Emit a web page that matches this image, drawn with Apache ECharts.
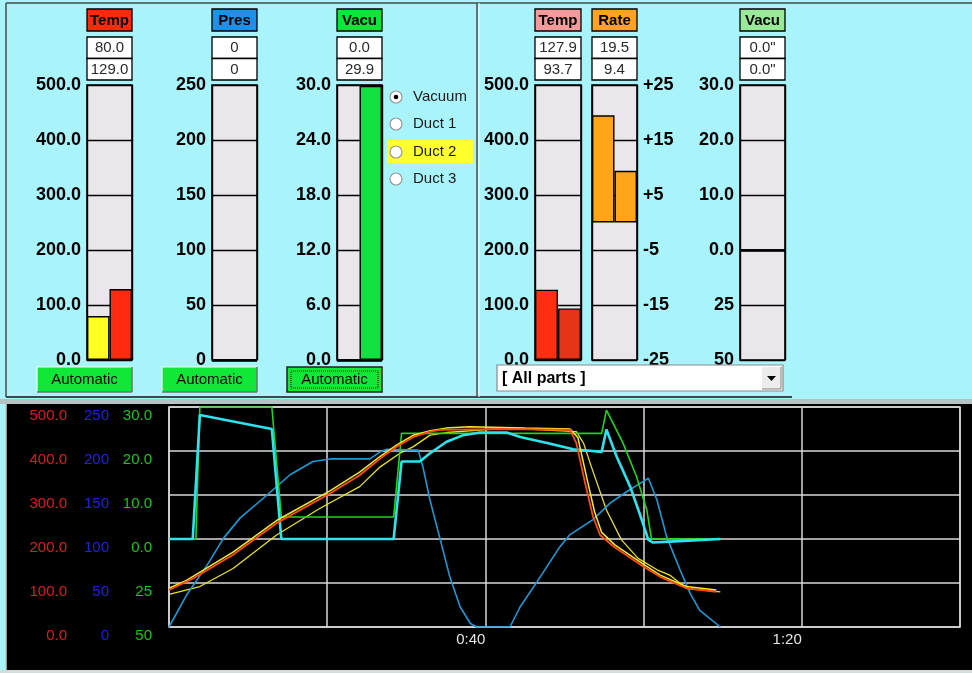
<!DOCTYPE html>
<html><head><meta charset="utf-8">
<script src="https://cdn.jsdelivr.net/npm/echarts@6/dist/echarts.min.js"></script>
<style>html,body{margin:0;padding:0;background:#a8f4fa}#c{width:972px;height:673px}</style>
</head><body><div id="c"></div>
<script>
// ---------- data ----------
const gaugeNames = ['Temp', 'Pres', 'Vacu', 'Temp', 'Rate', 'Vacu'];
const gaugeColumns = ['Setpoint', 'Actual'];
const tempValues = [80.0, 129.0];
const presValues = [0, 0];
const vacuValues = [0.0, 29.9];
const partTempValues = [127.9, 93.7];
const rateValues = [19.5, 9.4];
const partVacuValues = [0.0, 0.0];

const tempTicks = ['0.0', '100.0', '200.0', '300.0', '400.0', '500.0'];
const presTicks = ['0', '50', '100', '150', '200', '250'];
const vacuTicks = ['0.0', '6.0', '12.0', '18.0', '24.0', '30.0'];
const rateTicks = ['-25', '-15', '-5', '+5', '+15', '+25'];
const vacuPresTicks = ['50', '25', '0.0', '10.0', '20.0', '30.0'];
const timeTicks = ['', '', '0:40', '', '1:20', ''];

const radioOptions = ['Vacuum', 'Duct 1', 'Duct 2', 'Duct 3'];
const buttonLabel = 'Automatic';
const partsOption = '[ All parts ]';

// trend series: [time, value]
const orangeTemp = [[0,84],[2.2,103],[3.1,111],[8.1,164],[13.6,236],[20.4,304],[24.1,345],[26.7,383],[28.8,410],[30.9,432],[33.0,444],[34.3,448],[42,450],[50.7,448],[51.5,418],[52.6,327],[53.6,251],[54.5,209],[56.2,183],[60.0,137],[62.1,114],[65.4,88],[69.2,80]];
const yellowTempA = [[0,88],[2.2,106],[8.1,170],[13.6,242],[20.4,310],[24.1,352],[26.7,388],[28.8,414],[30.9,436],[33,446],[35,452],[38,455],[45,452],[50.7,450],[51.7,430],[52.8,340],[53.8,262],[54.7,215],[56.4,186],[60.2,140],[62.1,118],[65.4,92],[69.2,84]];
const yellowTempB = [[0,74],[3.9,92],[8.1,133],[13.6,209],[19.1,270],[24.1,319],[26.7,364],[29.2,395],[30.9,410],[33.0,436],[35.1,442],[42.7,452],[51.5,444],[52.4,418],[53.4,364],[55.3,266],[57.2,198],[59.3,156],[61.7,130],[63.3,118],[65.4,88],[69.7,80]];
const presTrend = [[0,0],[2.2,36],[4.8,70],[6.9,101],[9.0,124],[12.4,150],[15.3,173],[18.2,188],[20.4,191],[25.4,191],[26.7,199],[27.5,202],[31.5,201],[32.1,182],[33.0,144],[34.3,99],[35.5,57],[36.8,23],[38.1,4],[38.9,0],[43.1,0],[44.4,23],[46.5,51],[49.4,91],[50.7,105],[53.6,122],[55.8,141],[57.9,154],[59.5,163],[60.6,169],[61.7,144],[62.9,103],[64.6,65],[65.9,38],[67.1,19],[69.7,0]];
const vacuumTrend = [[0,0],[3.4,0],[3.9,30],[13.0,30],[14.2,5.0],[28.4,5.0],[29.4,24.0],[54.7,24.0],[55.3,29.3],[57.4,21.8],[59.1,14.2],[60.4,6.6],[61.0,0],[69.7,0]];
const ductTrend = [[0,0],[3.0,0],[3.9,28.2],[13.0,25.0],[14.2,0],[28.4,0],[29.4,17.6],[31.7,17.6],[33.0,19.5],[35.1,22.1],[37.2,23.6],[39.3,24.2],[42.7,24.2],[44.4,23.2],[47.8,21.8],[51.1,20.4],[54.7,19.8],[55.3,24.9],[56.6,18.7],[58.3,11.9],[59.5,5.8],[60.6,-0.2],[61.2,-0.8],[63.3,-0.6],[69.7,0]];

// ---------- layout / style ----------
const FF = '"Liberation Sans", Arial, sans-serif';
const gaugeLayout = [{x:87,w:45},{x:212,w:45},{x:337,w:45},{x:535,w:46},{x:592,w:45},{x:740,w:45}];
const headerColors = ['#ff2a0a', '#1e90e8', '#08e838', '#f49a9a', '#ffa21e', '#98ea98'];
const gaugeDefs = [
  {values: tempValues, min: 0, max: 500, interval: 100, ticks: tempTicks, colors: ['#ffff22', '#ff2a10'], fmt: v => v.toFixed(1), side: 'left'},
  {values: presValues, min: 0, max: 250, interval: 50, ticks: presTicks, colors: ['#1e90e8', '#1e90e8'], fmt: v => String(v), side: 'left', zero: true},
  {values: vacuValues, min: 0, max: 30, interval: 6, ticks: vacuTicks, colors: ['#10e040', '#10e040'], fmt: v => v.toFixed(1), side: 'left', zero: true},
  {values: partTempValues, min: 0, max: 500, interval: 100, ticks: tempTicks, colors: ['#ff2e10', '#e63418'], fmt: v => v.toFixed(1), side: 'left'},
  {values: rateValues, min: -25, max: 25, interval: 10, ticks: rateTicks, colors: ['#ffa518', '#ffa518'], fmt: v => v.toFixed(1), side: 'right'},
  {values: partVacuValues, min: -20, max: 30, interval: 10, ticks: vacuPresTicks, colors: ['#10e040', '#10e040'], fmt: v => v.toFixed(1) + '"', side: 'left', zero: true}
];

const grids = [], xAxes = [], yAxes = [], series = [];
gaugeDefs.forEach((d, i) => {
  const L = gaugeLayout[i];
  grids.push({left: L.x, top: 85, width: L.w, height: 275, show: true, backgroundColor: '#ebe6ec', borderColor: '#000', borderWidth: 1.6});
  xAxes.push({gridIndex: i, type: 'category', data: gaugeColumns, axisLine: {show: false}, axisTick: {show: false}, axisLabel: {show: false},
    splitLine: {show: true, lineStyle: {color: '#000', width: 1.4}}});
  yAxes.push({gridIndex: i, type: 'value', min: d.min, max: d.max, interval: d.interval, position: d.side,
    axisLine: {show: false}, axisTick: {show: false},
    axisLabel: {fontSize: 18, fontWeight: 'bold', color: '#000', fontFamily: FF, margin: 6, padding: [3, 0, 0, 0],
      formatter: v => d.ticks[Math.round((v - d.min) / d.interval)] || ''},
    splitLine: {show: true, lineStyle: {color: '#000', width: 1.4}}});
  const s = {type: 'bar', xAxisIndex: i, yAxisIndex: i, barCategoryGap: '0%', silent: true,
    data: d.values.map((v, k) => ({value: v, itemStyle: {color: d.colors[k]}})),
    itemStyle: {borderColor: '#000', borderWidth: 1.4}};
  if (d.zero) s.markLine = {silent: true, symbol: 'none', label: {show: false}, lineStyle: {color: '#000', width: 2.5, type: 'solid'}, data: [{yAxis: 0}]};
  series.push(s);
});

// main trend chart (grid 6)
grids.push({left: 169, top: 407, width: 791, height: 220, show: true, backgroundColor: 'transparent', borderColor: '#d8d8d8', borderWidth: 1.5});
xAxes.push({gridIndex: 6, type: 'value', min: 0, max: 100, interval: 20, axisLine: {show: false}, axisTick: {show: false},
  axisLabel: {color: '#e4e4e4', fontSize: 15, fontFamily: FF, align: 'right', margin: 5, formatter: v => timeTicks[Math.round(v / 20)] || ''},
  splitLine: {show: true, lineStyle: {color: '#d8d8d8', width: 1.5}}});
const mainY = (min, max, interval, ticks, color, margin, split) => ({gridIndex: 6, type: 'value', min, max, interval, position: 'left',
  axisLine: {show: false}, axisTick: {show: false},
  axisLabel: {color, fontSize: 15, fontFamily: FF, margin, verticalAlign: 'top', padding: [1, 0, 0, 0], formatter: v => ticks[Math.round((v - min) / interval)] || ''},
  splitLine: {show: split, lineStyle: {color: '#d8d8d8', width: 1.5}}});
yAxes.push(mainY(0, 500, 100, tempTicks, '#e41818', 102, true));   // 6
yAxes.push(mainY(0, 250, 50, presTicks, '#2020e6', 60, false));    // 7
yAxes.push(mainY(-20, 30, 10, vacuPresTicks, '#14c814', 17, false)); // 8

const trend = (data, y, color, width) => ({type: 'line', xAxisIndex: 6, yAxisIndex: y, data, showSymbol: false, symbol: 'none', silent: true,
  lineStyle: {color, width}, itemStyle: {color}});
series.push(trend(yellowTempB, 6, '#e8e020', 1.3));
series.push(trend(presTrend, 7, '#1a9ad8', 1.6));
series.push(trend(vacuumTrend, 8, '#18d818', 1.6));
series.push(trend(ductTrend, 8, '#2ee2ee', 2.6));
series.push(trend(yellowTempA, 6, '#f2ea2a', 1.5));
series.push(trend(orangeTemp, 6, '#ff4a10', 1.8));

// ---------- UI chrome (graphic) ----------
const g = [];
const rect = (x, y, w, h, fill, stroke, lw, z, extra) => g.push({type: 'rect', z: z == null ? 5 : z, silent: true, shape: {x, y, width: w, height: h},
  style: Object.assign({fill: fill || 'none', stroke: stroke || null, lineWidth: lw || 1}, extra || {})});
const line = (x1, y1, x2, y2, color, lw, z) => g.push({type: 'line', z: z == null ? 5 : z, silent: true, shape: {x1, y1, x2, y2}, style: {stroke: color, lineWidth: lw || 1}});
const text = (x, y, t, font, color, align, z) => g.push({type: 'text', z: z == null ? 6 : z, silent: true,
  style: {x, y, text: t, font, fill: color || '#000', align: align || 'center', verticalAlign: 'middle', textAlign: align || 'center', textVerticalAlign: 'middle'}});

// panels
line(6, 3, 972, 3, '#4a4a4a', 1.5);
line(6, 3, 6, 397, '#4a4a4a', 1.5);
line(6, 397, 792, 397, '#3a4a4a', 2);
line(477, 3, 477, 397, '#4a4a4a', 1.5);
line(479, 3, 479, 397, '#e8ffff', 1);
rect(0, 399, 972, 5, '#b4c4c4', null, 1, -20);
rect(6, 404, 966, 266, '#000', null, 1, -20);
line(6, 404, 6, 670, '#c8c8c8', 1.5, -19);
rect(0, 670, 972, 3, '#d4dcdc', null, 1, -20);

// gauge headers & value boxes
const allValues = [tempValues, presValues, vacuValues, partTempValues, rateValues, partVacuValues];
gaugeDefs.forEach((d, i) => {
  const L = gaugeLayout[i];
  rect(L.x, 9, L.w, 22, headerColors[i], '#000', 1.3);
  text(L.x + L.w / 2, 20.5, gaugeNames[i], 'bold 15px ' + FF, '#000');
  rect(L.x, 37, L.w, 21.5, '#fff', '#000', 1.3);
  rect(L.x, 58.5, L.w, 21.5, '#fff', '#000', 1.3);
  text(L.x + L.w / 2, 48, d.fmt(allValues[i][0]), '15px ' + FF, '#2a2a2a');
  text(L.x + L.w / 2, 69.5, d.fmt(allValues[i][1]), '15px ' + FF, '#2a2a2a');
});

// radio buttons
const radioY = [97, 124, 152, 179];
rect(387, 140, 86, 23, '#ffff30', null, 1, 4);
radioOptions.forEach((name, k) => {
  g.push({type: 'circle', z: 5, silent: true, shape: {cx: 396, cy: radioY[k], r: 6}, style: {fill: '#fff', stroke: '#9a9a9a', lineWidth: 1.2}});
  if (k === 0) g.push({type: 'circle', z: 6, silent: true, shape: {cx: 396, cy: radioY[k], r: 2.3}, style: {fill: '#000'}});
  text(413, radioY[k], name, '15px ' + FF, '#1a1a1a', 'left');
});

// Automatic buttons
const btns = [{x: 37, w: 95}, {x: 162, w: 95}, {x: 287, w: 95}];
btns.forEach((b, k) => {
  rect(b.x, 367, b.w, 25, '#10e838', k === 2 ? '#202020' : null, k === 2 ? 1.5 : 1);
  if (k !== 2) {
    line(b.x, 367, b.x + b.w, 367, '#f0fff0', 1.2);
    line(b.x, 367, b.x, 392, '#f0fff0', 1.2);
    line(b.x, 392, b.x + b.w, 392, '#707070', 1.5);
    line(b.x + b.w, 367, b.x + b.w, 392, '#707070', 1.5);
  } else {
    rect(b.x + 4, 371, b.w - 8, 17, null, '#000', 1, 6, {lineDash: [1, 1]});
  }
  text(b.x + b.w / 2, 379.5, buttonLabel, '15px ' + FF, '#000');
});

// dropdown
rect(497, 365, 286, 26, '#fff', '#8a8a8a', 1.2);
rect(762, 367, 19, 22, '#ececec', null, 1);
line(762, 389, 781, 389, '#808080', 1);
line(781, 367, 781, 389, '#808080', 1);
g.push({type: 'polygon', z: 7, silent: true, shape: {points: [[767, 376], [776, 376], [771.5, 381]]}, style: {fill: '#000'}});
text(502, 379, partsOption, 'bold 16px ' + FF, '#000', 'left');

const chart = echarts.init(document.getElementById('c'), null, {renderer: 'canvas'});
chart.setOption({
  animation: false,
  backgroundColor: '#a8f4fa',
  grid: grids, xAxis: xAxes, yAxis: yAxes, series: series, graphic: {elements: g}
});
</script></body></html>
